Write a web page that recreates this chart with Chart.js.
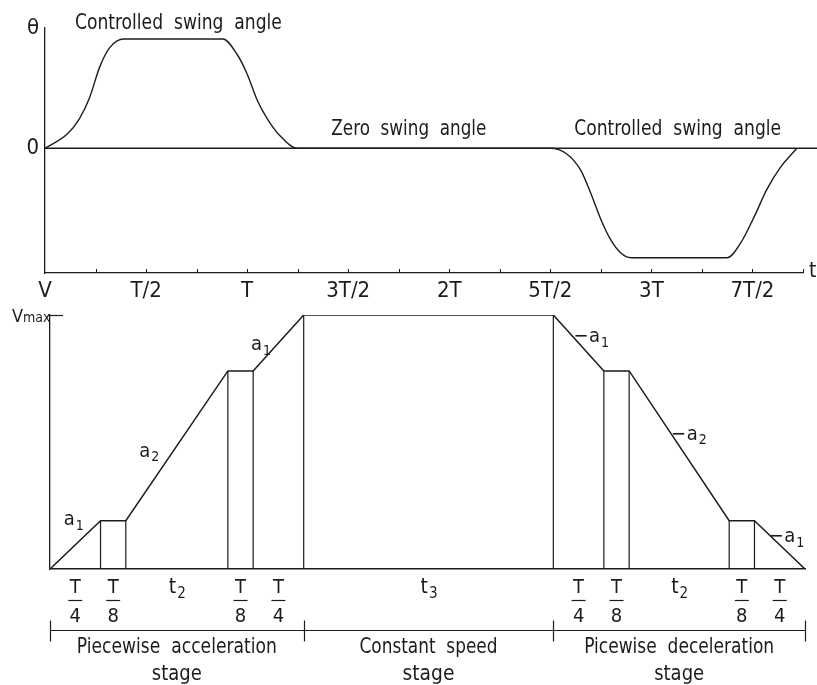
<!DOCTYPE html>
<html>
<head>
<meta charset="utf-8">
<script src="https://cdn.jsdelivr.net/npm/chart.js@4"></script>
<style>
  html, body { margin: 0; padding: 0; background: #fff; }
  #wrap { position: relative; width: 817px; height: 685px; }
  #swing-chart { position: absolute; left: 0; top: 0; }
  #speed-chart { position: absolute; left: 0; top: 290px; }
</style>
</head>
<body>
<div id="wrap">
  <canvas id="swing-chart" width="817" height="310"></canvas>
  <canvas id="speed-chart" width="817" height="395"></canvas>
</div>
<script>
// time is in units of the pendulum period T

// top: swing angle (theta = 1)
const swingTimes  = [0, 0.11, 0.17, 0.22, 0.27, 0.32, 0.39, 0.88, 0.95, 1.0, 1.05, 1.10, 1.16, 1.25,
                     2.5, 2.58, 2.65, 2.70, 2.75, 2.80, 2.85, 2.90, 3.375, 3.44, 3.51, 3.57, 3.64, 3.72];
const swingAngles = [0, 0.13, 0.27, 0.46, 0.74, 0.92, 1.0, 1.0, 0.86, 0.68, 0.44, 0.27, 0.12, 0,
                     0, -0.05, -0.2, -0.41, -0.65, -0.84, -0.96, -1.0, -1.0, -0.87, -0.62, -0.38, -0.17, 0];
const zeroTimes = [0, 3.84];
const zeroAngles = [0, 0];
const timeTickValues = [0, 0.5, 1, 1.5, 2, 2.5, 3, 3.5];
const timeTickLabels = ['V', 'T/2', 'T', '3T/2', '2T', '5T/2', '3T', '7T/2'];
const angleTickValues = [0, 1.1];
const angleTickLabels = ['0', 'θ'];
const phaseNames = ['Controlled swing angle', 'Zero swing angle', 'Controlled swing angle'];
const phaseCentres = [0.66, 1.80, 3.13];

// bottom: trolley speed (Vmax = 1)
const stageTimes  = [0, 0.25, 0.375, 0.88, 1.005, 1.255, 2.49, 2.74, 2.865, 3.36, 3.485, 3.735];
const stageSpeeds = [0, 0.19, 0.19, 0.78, 0.78, 1, 1, 0.78, 0.78, 0.19, 0.19, 0];
const segmentLabels = ['T/4', 'T/8', 't2', 'T/8', 'T/4', 't3', 'T/4', 'T/8', 't2', 'T/8', 'T/4'];
const slopeLabels = ['a1', null, 'a2', null, 'a1', null, '-a1', null, '-a2', null, '-a1'];
const stageBounds = [0, 5, 6, 11];
const stageNames = [['Piecewise acceleration', 'stage'], ['Constant speed', 'stage'], ['Picewise deceleration', 'stage']];

const ink = '#1c1c1c';
const family = "'DejaVu Sans Condensed', 'Liberation Sans Narrow', 'DejaVu Sans', sans-serif";

const pairs = (xs, ys) => xs.map((x, i) => ({ x: x, y: ys[i] }));

const dividerPoints = [];
for (let i = 1; i < stageTimes.length - 1; i++) {
    dividerPoints.push({ x: stageTimes[i], y: 0 });
    dividerPoints.push({ x: stageTimes[i], y: stageSpeeds[i] });
    dividerPoints.push({ x: stageTimes[i], y: null });
}

// draws a caption squeezed to the width it has in the figure
function fitText(ctx, text, cx, y, width, size) {
    ctx.save();
    ctx.font = `${size}px ${family}`;
    ctx.wordSpacing = '6px';
    const natural = ctx.measureText(text).width;
    ctx.translate(cx, y);
    ctx.scale(width / natural, 1);
    ctx.textAlign = 'center';
    ctx.fillText(text, 0, 0);
    ctx.restore();
}

const phaseWidths = [207, 155, 207];

const swingMarks = {
    id: 'swingMarks',
    afterDraw(chart) {
        const { ctx, chartArea, scales: { x, y } } = chart;
        ctx.save();
        ctx.strokeStyle = ink;
        ctx.fillStyle = ink;
        ctx.lineWidth = 1;
        // small ticks standing on the time axis
        x.ticks.forEach(t => {
            if (t.value === 0) return;
            const px = Math.round(x.getPixelForValue(t.value)) + 0.5;
            ctx.beginPath();
            ctx.moveTo(px, chartArea.bottom);
            ctx.lineTo(px, chartArea.bottom - 4);
            ctx.stroke();
        });
        ctx.textBaseline = 'alphabetic';
        phaseNames.forEach((name, i) => {
            const px = x.getPixelForValue(phaseCentres[i]);
            const py = i === 0 ? y.getPixelForValue(1) - 10 : y.getPixelForValue(0) - 13;
            fitText(ctx, name, px, py, phaseWidths[i], 21);
        });
        ctx.font = `21px ${family}`;
        ctx.textAlign = 'left';
        ctx.textBaseline = 'middle';
        ctx.fillText('t', chartArea.right + 6, chartArea.bottom - 1);
        ctx.restore();
    }
};

function drawSub(ctx, main, sub, cx, cy, size) {
    const small = Math.round(size * 0.7);
    ctx.font = `${size}px ${family}`;
    const w1 = ctx.measureText(main).width;
    ctx.font = `${small}px ${family}`;
    const w2 = ctx.measureText(sub).width;
    const left = cx - (w1 + w2) / 2;
    ctx.textAlign = 'left';
    ctx.textBaseline = 'middle';
    ctx.font = `${size}px ${family}`;
    ctx.fillText(main, left, cy);
    ctx.font = `${small}px ${family}`;
    ctx.fillText(sub, left + w1 + 1, cy + 6);
}

const slopeOffsets = { 0: [-2, -25], 2: [-28, 6], 4: [-18, 2], 6: [20, -6], 8: [17, -11], 10: [14, -8] };
const stageWidths = [[200, 50], [138, 52], [190, 50]];

const speedMarks = {
    id: 'speedMarks',
    afterDraw(chart) {
        const { ctx, chartArea: area, scales: { x, y } } = chart;
        const base = y.getPixelForValue(0);
        const top = y.getPixelForValue(1);
        const px = i => x.getPixelForValue(stageTimes[i]);
        const py = i => y.getPixelForValue(stageSpeeds[i]);
        ctx.save();
        ctx.fillStyle = ink;
        ctx.strokeStyle = ink;
        ctx.lineWidth = 1.2;

        // Vmax mark on the speed axis
        ctx.beginPath();
        ctx.moveTo(area.left, Math.round(top) + 0.5);
        ctx.lineTo(area.left + 13, Math.round(top) + 0.5);
        ctx.stroke();
        ctx.textAlign = 'left';
        ctx.textBaseline = 'alphabetic';
        ctx.font = `18px ${family}`;
        ctx.fillText('V', 12, top + 7);
        ctx.font = `14px ${family}`;
        ctx.fillText('max', 23, top + 7);

        // durations under each segment
        segmentLabels.forEach((lab, i) => {
            const xm = (px(i) + px(i + 1)) / 2;
            const frac = lab.match(/^T\/(\d)$/);
            if (frac) {
                ctx.font = `20px ${family}`;
                ctx.textAlign = 'center';
                ctx.textBaseline = 'middle';
                ctx.fillText('T', xm, base + 19);
                ctx.beginPath();
                ctx.moveTo(xm - 7, Math.round(base + 31) + 0.5);
                ctx.lineTo(xm + 7, Math.round(base + 31) + 0.5);
                ctx.stroke();
                ctx.fillText(frac[1], xm, base + 48);
            } else {
                drawSub(ctx, lab[0], lab.slice(1), xm, base + 19, 21);
            }
        });

        // acceleration labels beside the slopes
        slopeLabels.forEach((lab, i) => {
            if (!lab) return;
            const [dx, dy] = slopeOffsets[i];
            const xm = (px(i) + px(i + 1)) / 2 + dx;
            const ym = (py(i) + py(i + 1)) / 2 + dy;
            const neg = lab[0] === '-';
            const core = neg ? lab.slice(1) : lab;
            if (neg) {
                ctx.font = `20px ${family}`;
                ctx.textAlign = 'right';
                ctx.textBaseline = 'middle';
                ctx.fillText('−', xm - 10, ym);
            }
            drawSub(ctx, core[0], core.slice(1), xm, ym, 20);
        });

        // stage brackets
        const by = Math.round(base + 61) + 0.5;
        ctx.beginPath();
        ctx.moveTo(px(stageBounds[0]), by);
        ctx.lineTo(px(stageBounds[stageBounds.length - 1]), by);
        stageBounds.forEach(b => {
            const bx = Math.round(px(b)) + 0.5;
            ctx.moveTo(bx, by - 10);
            ctx.lineTo(bx, by + 11);
        });
        ctx.stroke();

        ctx.textBaseline = 'middle';
        stageNames.forEach((lines, i) => {
            const cx = (px(stageBounds[i]) + px(stageBounds[i + 1])) / 2;
            lines.forEach((line, j) => fitText(ctx, line, cx, base + 79 + j * 27, stageWidths[i][j], 21));
        });
        ctx.restore();
    }
};

new Chart(document.getElementById('swing-chart'), {
    type: 'line',
    data: {
        datasets: [
            { data: pairs(swingTimes, swingAngles), borderColor: ink, borderWidth: 1.4,
              pointRadius: 0, cubicInterpolationMode: 'monotone', fill: false },
            { data: pairs(zeroTimes, zeroAngles), borderColor: ink, borderWidth: 1.4,
              pointRadius: 0, clip: false, fill: false }
        ]
    },
    options: {
        responsive: false,
        animation: false,
        layout: { padding: { top: 28, right: 14, left: 0, bottom: 0 } },
        plugins: { legend: { display: false }, tooltip: { enabled: false } },
        scales: {
            x: {
                type: 'linear', min: 0, max: 3.75,
                grid: { display: false, drawTicks: false },
                border: { display: true, color: ink, width: 1.3 },
                ticks: {
                    stepSize: 0.25, maxTicksLimit: 100, autoSkip: false, maxRotation: 0,
                    padding: 5, color: ink, font: { family: family, size: 22 },
                    callback: v => {
                        const i = timeTickValues.indexOf(v);
                        return i >= 0 ? timeTickLabels[i] : '';
                    }
                },
                afterFit: s => { s.height = 37; }
            },
            y: {
                type: 'linear', min: -1.14, max: 1.1,
                grid: { display: false, drawTicks: false },
                border: { display: true, color: ink, width: 1.3 },
                ticks: {
                    padding: 6, color: ink, font: { family: family, size: 22 },
                    callback: v => {
                        const i = angleTickValues.indexOf(v);
                        return i >= 0 ? angleTickLabels[i] : '';
                    }
                },
                afterBuildTicks: s => { s.ticks = angleTickValues.map(v => ({ value: v })); },
                afterFit: s => { s.width = 45; }
            }
        }
    },
    plugins: [swingMarks]
});

new Chart(document.getElementById('speed-chart'), {
    type: 'line',
    data: {
        datasets: [
            { data: pairs(stageTimes, stageSpeeds), borderColor: ink, borderWidth: 1.5,
              pointRadius: 0, tension: 0, fill: false },
            { data: dividerPoints, borderColor: ink, borderWidth: 1.2,
              pointRadius: 0, spanGaps: false, fill: false }
        ]
    },
    options: {
        responsive: false,
        animation: false,
        layout: { padding: { top: 25, right: 12, left: 0, bottom: 0 } },
        plugins: { legend: { display: false }, tooltip: { enabled: false } },
        scales: {
            x: {
                type: 'linear', min: 0, max: 3.735,
                grid: { display: false, drawTicks: false },
                border: { display: true, color: ink, width: 1.4 },
                ticks: { display: false },
                afterFit: s => { s.height = 116; }
            },
            y: {
                type: 'linear', min: 0, max: 1,
                grid: { display: false, drawTicks: false },
                border: { display: true, color: ink, width: 1.3 },
                ticks: { display: false },
                afterFit: s => { s.width = 50; }
            }
        }
    },
    plugins: [speedMarks]
});
</script>
</body>
</html>
